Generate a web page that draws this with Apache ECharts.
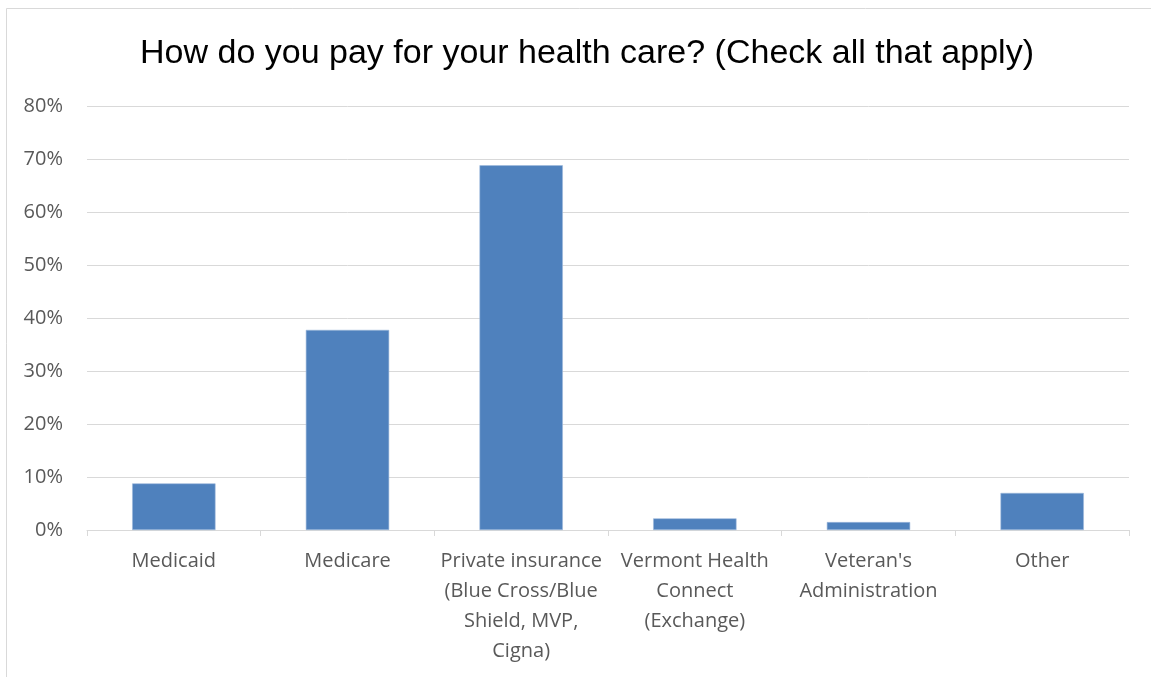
<!DOCTYPE html>
<html><head><meta charset="utf-8">
<script src="https://cdn.jsdelivr.net/npm/echarts@6/dist/echarts.min.js"></script>
<style>html,body{margin:0;padding:0;background:#fff}#c{width:1151px;height:677px}</style>
</head><body><div id="c"></div>
<script>
const titleText = "How do you pay for your health care? (Check all that apply)";
const categories = ["Medicaid", "Medicare", "Private insurance\n(Blue Cross/Blue\nShield, MVP,\nCigna)", "Vermont Health\nConnect\n(Exchange)", "Veteran's\nAdministration", "Other"];
const values = [8.8, 37.8, 68.9, 2.2, 1.5, 7.0];
const yTicks = [0, 10, 20, 30, 40, 50, 60, 70, 80];

const chart = echarts.init(document.getElementById('c'), null, {renderer: 'canvas'});
chart.setOption({
  animation: false,
  backgroundColor: '#fff',
  graphic: [{type: 'rect', shape: {x: 6.5, y: 8.5, width: 1160, height: 700}, style: {fill: 'none', stroke: '#D9D9D9', lineWidth: 1}, silent: true}],
  title: {text: titleText, left: 582, top: 32, textAlign: 'center',
    textStyle: {fontFamily: 'Liberation Sans, sans-serif', fontSize: 34, fontWeight: 'normal', color: '#000'}},
  grid: {left: 87, right: 22, top: 106.5, bottom: 147},
  xAxis: {type: 'category', data: categories,
    axisLine: {lineStyle: {color: '#D9D9D9', width: 1}},
    axisTick: {show: true, length: 6, lineStyle: {color: '#D9D9D9'}},
    axisLabel: {color: '#595959', fontFamily: 'Open Sans, sans-serif', fontSize: 20, lineHeight: 30, margin: 16, interval: 0}},
  yAxis: {type: 'value', min: yTicks[0], max: yTicks[yTicks.length-1], interval: 10,
    axisLine: {show: false}, axisTick: {show: false},
    splitLine: {lineStyle: {color: '#D9D9D9', width: 1}},
    axisLabel: {color: '#595959', fontFamily: 'Open Sans, sans-serif', fontSize: 20, margin: 24, formatter: v => v + '%'}},
  series: [{type: 'bar', data: values, barWidth: '48%',
    itemStyle: {color: '#4F81BD', borderColor: '#9DB9DB', borderWidth: 0.6}}]
});
</script></body></html>
